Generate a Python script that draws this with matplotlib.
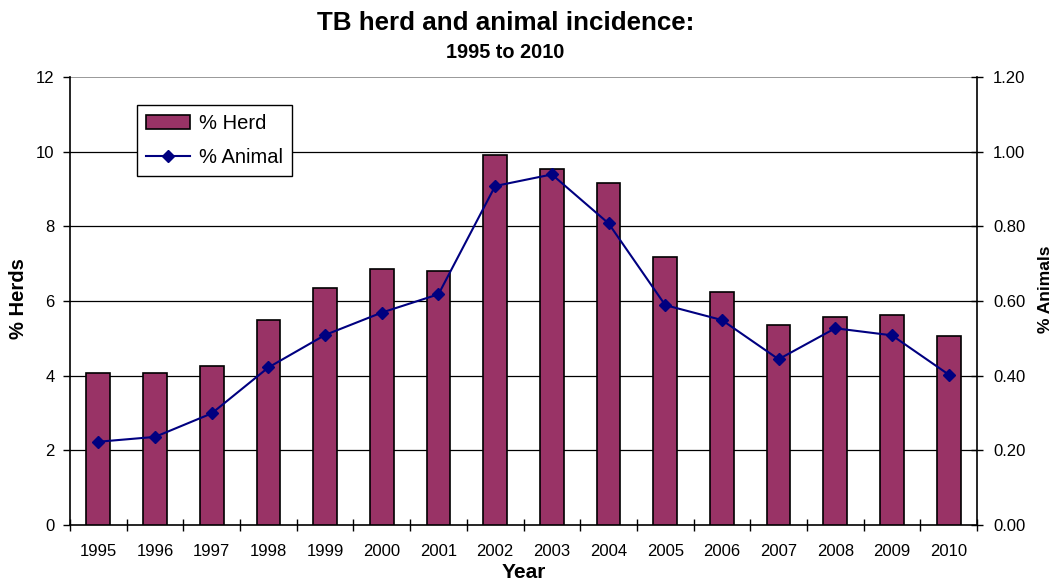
import matplotlib
matplotlib.use("Agg")
import matplotlib.pyplot as plt
import numpy as np

plt.rcParams['font.family'] = ['Liberation Sans', 'DejaVu Sans']

years = ['1995', '1996', '1997', '1998', '1999', '2000', '2001', '2002',
         '2003', '2004', '2005', '2006', '2007', '2008', '2009', '2010']
herd_pct = [4.08, 4.08, 4.27, 5.49, 6.36, 6.85, 6.81, 9.92,
            9.53, 9.17, 7.19, 6.24, 5.35, 5.58, 5.62, 5.05]
animal_pct = [0.223, 0.236, 0.299, 0.422, 0.509, 0.569, 0.618, 0.908,
              0.939, 0.808, 0.589, 0.549, 0.444, 0.527, 0.508, 0.403]

fig = plt.figure(figsize=(10.54, 5.85), dpi=100)
ax = fig.add_axes([70/1054, 1-525/585, 907/1054, 448/585])
x = np.arange(len(years))

bars = ax.bar(x, herd_pct, width=0.42, color='#993366', edgecolor='black',
              linewidth=1.2, zorder=3, label='% Herd')
ax.set_xlim(-0.5, len(years) - 0.5)
ax.set_ylim(0, 12)
ax.set_yticks(np.arange(0, 13, 2))
for yv in range(2, 12, 2):
    ax.axhline(yv, color='black', linewidth=0.9, zorder=1)
ax.axhline(12, color='#888888', linewidth=1.2, zorder=1)

ax.set_xticks(x)
ax.set_xticklabels(years, fontsize=12)
ax.set_xticks(np.arange(-0.5, len(years), 1), minor=True)
ax.tick_params(axis='x', which='major', length=0, pad=14)
ax.tick_params(axis='x', which='minor', length=8, direction='inout', width=1)
ax.tick_params(axis='y', which='major', length=5, direction='out', labelsize=12,
               width=1, pad=6)

for s in ['top', 'right']:
    ax.spines[s].set_visible(False)
ax.spines['left'].set_linewidth(1.2)
ax.spines['bottom'].set_linewidth(1.2)

ax2 = ax.twinx()
ax2.set_position(ax.get_position())
ax2.set_ylim(0, 1.2)
ax2.set_yticks(np.arange(0, 1.21, 0.2))
ax2.set_yticklabels([f'{v:.2f}' for v in np.arange(0, 1.21, 0.2)])
ax2.tick_params(axis='y', length=9, direction='inout', labelsize=12, width=1, pad=7)
for s in ['top', 'left', 'bottom']:
    ax2.spines[s].set_visible(False)
ax2.spines['right'].set_linewidth(1.2)
line, = ax2.plot(x, animal_pct, color='#000080', linewidth=1.5, marker='D',
                 markersize=6.5, markerfacecolor='#000080', markeredgecolor='#000080',
                 zorder=4, label='% Animal')

fig.text(18.5/1054, 1 - 299/585, '% Herds', rotation=90, ha='center', va='center',
         fontsize=14.5, fontweight='bold')
fig.text(1045/1054, 1 - 289/585, '% Animals', rotation=90, ha='center', va='center',
         fontsize=12.5, fontweight='bold')
fig.text(0.5 * (70 + 977) / 1054, 1 - 572.5/585, 'Year', ha='center', va='center',
         fontsize=15, fontweight='bold')

fig.text(506/1054, 1 - 22.5/585, 'TB herd and animal incidence:',
         ha='center', va='center', fontsize=18.7, fontweight='bold')
fig.text(505/1054, 1 - 53/585, '1995 to 2010',
         ha='center', va='center', fontsize=14.3, fontweight='bold')

leg = ax.legend([bars, line], ['% Herd', '% Animal'], loc='upper left',
                bbox_to_anchor=(0.074, 0.9375), fontsize=14.5, frameon=True,
                fancybox=False, edgecolor='black', framealpha=1,
                handlelength=2.2, handletextpad=0.4, borderpad=0.45,
                labelspacing=0.72, borderaxespad=0)
leg.get_frame().set_linewidth(1.0)
leg.set_zorder(10)

fig.savefig('out.png', dpi=100)
